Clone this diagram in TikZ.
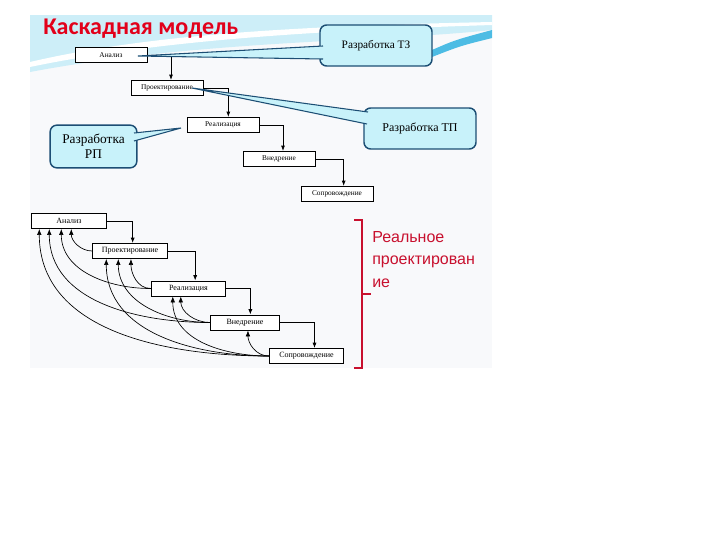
\documentclass[tikz,border=0pt]{standalone}
\usepackage{fontspec}
\setmainfont{Liberation Serif}
\newfontfamily\titlefont{Carlito}
\newfontfamily\labelsans{Liberation Sans}
\usetikzlibrary{arrows.meta}
\definecolor{slidebg}{HTML}{F8F9FB}
\definecolor{swlight}{HTML}{CDEEF8}
\definecolor{swdeep}{HTML}{4DBCE4}
\definecolor{callfill}{HTML}{C8F2FA}
\definecolor{calledge}{HTML}{1C4E74}
\definecolor{titlered}{HTML}{E2001A}
\definecolor{brred}{HTML}{C8102E}

\begin{document}
\begin{tikzpicture}[x=0.75pt,y=0.75pt,yscale=-1,xscale=1,
  stage/.style={draw=black, fill=white, line width=0.6pt, minimum width=54pt, minimum height=11.5pt, inner sep=0pt, font=\fontsize{5.5}{6}\selectfont},
  stagetwo/.style={stage, minimum width=56pt, minimum height=11.3pt, font=\fontsize{6}{7}\selectfont},
  callout/.style={draw=calledge, fill=callfill, line width=1.1pt, rounded corners=5pt, align=center},
  flow/.style={line width=0.6pt, -{Latex[length=4pt,width=3pt]}},
  back/.style={line width=0.5pt, -{Latex[length=4.5pt,width=3.5pt]}},
  brk/.style={draw=brred, line width=1.5pt}]
  \useasboundingbox (0,0) rectangle (720,540);

  % slide background and header swoosh
  \fill[slidebg] (30,15) rectangle (492,368);
  \fill[swlight] (30,15) -- (492,15) -- (492,30) .. controls (380,42) and (200,40) .. (30,72) -- cycle;
  \fill[white] (30,62) .. controls (150,34) and (300,26) .. (492,22) -- (492,25) .. controls (300,31) and (150,42) .. (30,67) -- cycle;
  \fill[swdeep] (432,50) .. controls (455,40) .. (492,30) -- (492,38) .. controls (460,46) .. (432,57) -- cycle;

  \node[anchor=west, inner sep=0pt, text=titlered, font=\titlefont\bfseries\fontsize{18}{20}\selectfont] (title) at (43,29) {Каскадная модель};

  % classic waterfall
  \node[stage] (an) at (111,55) {Анализ};
  \node[stage] (pr) at (167,88) {Проектирование};
  \node[stage] (re) at (223,125) {Реализация};
  \node[stage] (vn) at (279,159) {Внедрение};
  \node[stage] (so) at (337,194) {Сопровождение};

  \draw[flow] (an.east) -| ([xshift=3pt]pr.north);
  \draw[flow] (pr.east) -| ([xshift=4pt]re.north);
  \draw[flow] (re.east) -| ([xshift=3pt]vn.north);
  \draw[flow] (vn.east) -| ([xshift=5pt]so.north);

  % callouts
  \node[callout, minimum width=84pt, minimum height=30.75pt, font=\fontsize{8.5}{10}\selectfont] (tz) at (376,45.5) {Разработка ТЗ};
  \node[callout, minimum width=84pt, minimum height=30.75pt, font=\fontsize{9}{10}\selectfont] (tp) at (420,128.5) {Разработка ТП};
  \node[callout, minimum width=65pt, minimum height=32pt, font=\fontsize{10}{11}\selectfont] (rp) at (93.5,146.5) {Разработка\\РП};

  \coordinate (tztip) at (138,56);
  \coordinate (tpptip) at (192,88);
  \coordinate (rptip) at (181,128);
  \fill[callfill] (323,46) -- (tztip) -- (323,59) -- cycle;
  \draw[calledge, line width=0.8pt] (323,46) -- (tztip) -- (323,59);
  \fill[callfill] (368,112) -- (tpptip) -- (367,124) -- cycle;
  \draw[calledge, line width=0.8pt] (368,112) -- (tpptip) -- (367,124);
  \fill[callfill] (134,133) -- (rptip) -- (134,141) -- cycle;
  \draw[calledge, line width=0.8pt] (134,133) -- (rptip) -- (134,141);

  % real waterfall with returns
  \node[stagetwo] (a2) at (69,221) {Анализ};
  \node[stagetwo] (p2) at (130,251) {Проектирование};
  \node[stagetwo] (r2) at (188.5,288.5) {Реализация};
  \node[stagetwo, minimum width=52pt] (v2) at (245,322.5) {Внедрение};
  \node[stagetwo] (s2) at (306.5,356) {Сопровождение};

  \draw[flow] (a2.east) -| ([xshift=2pt]p2.north);
  \draw[flow] (p2.east) -| ([xshift=5pt]r2.north);
  \draw[flow] (r2.east) -| ([xshift=4pt]v2.north);
  \draw[flow] (v2.east) -| ([xshift=6pt]s2.north);

  \draw[back] (p2.west) to[out=180,in=90] ([xshift=30pt]a2.south west);
  \draw[back] (r2.west) to[out=180,in=90] ([xshift=22.5pt]a2.south west);
  \draw[back] (v2.west) to[out=180,in=90] ([xshift=13.5pt]a2.south west);
  \draw[back] (s2.west) to[out=180,in=90] ([xshift=6pt]a2.south west);

  \draw[back] (r2.west) to[out=180,in=90] ([xshift=29pt]p2.south west);
  \draw[back] (v2.west) to[out=180,in=90] ([xshift=19.5pt]p2.south west);
  \draw[back] (s2.west) to[out=180,in=90] ([xshift=10.5pt]p2.south west);

  \draw[back] (v2.west) to[out=180,in=90] ([xshift=22.5pt]r2.south west);
  \draw[back] (s2.west) to[out=180,in=90] ([xshift=16.5pt]r2.south west);

  \draw[back] (s2.west) to[out=180,in=90] ([xshift=28.5pt]v2.south west);

  % bracket
  \draw[brk] (354,220) -- (362,220) -- (362,368) -- (354,368);
  \draw[brk] (362,294) -- (371,294);
  \node[anchor=north west, align=left, inner sep=0pt, text=brred, font=\labelsans\fontsize{12}{17}\selectfont] (real) at (372,231) {Реальное\\проектирован\\ие};
\end{tikzpicture}
\end{document}
